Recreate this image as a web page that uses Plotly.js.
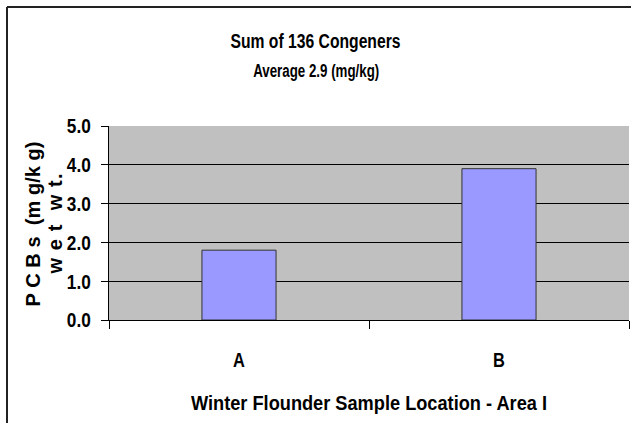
<!DOCTYPE html>
<html>
<head>
<meta charset="utf-8">
<script src="https://cdn.plot.ly/plotly-3.0.1.min.js"></script>
<style>
  html, body { margin: 0; padding: 0; background: #ffffff; }
  #chart { width: 631px; height: 423px; }
</style>
</head>
<body>
<div id="chart"></div>
<script>
// ---- Data ----
const categories = ["A", "B"];
const pcbValues = [1.8, 3.9];
const yTickValues = [0, 1, 2, 3, 4, 5];
const yTickLabels = ["0.0", "1.0", "2.0", "3.0", "4.0", "5.0"];

const chartTitle = "Sum of 136 Congeners";
const chartSubtitle = "Average 2.9 (mg/kg)";
const xTitle = "Winter Flounder Sample Location - Area I";
const yTitleLine1 = "P C B s  (m g/k g)";
const yTitleLine2 = "w e t  w t.";

const fontFam = "'Liberation Sans', Arial, sans-serif";

const trace = {
  type: "bar",
  x: categories,
  y: pcbValues,
  width: 0.285,
  marker: { color: "#9999FF", line: { color: "#333333", width: 1 } },
  hoverinfo: "skip"
};

const W = 631, H = 423;
const mL = 109, mR = 2, mT = 126, mB = 103;
const plotW = W - mL - mR, plotH = H - mT - mB;
const px = v => (v - mL) / plotW;
const py = v => (H - mB - v) / plotH;

const yTitleFont = { family: fontFam, size: 20, weight: "bold", color: "#000000" };

const layout = {
  width: W,
  height: H,
  margin: { l: mL, r: mR, t: mT, b: mB, pad: 0 },
  paper_bgcolor: "#ffffff",
  plot_bgcolor: "#C0C0C0",
  showlegend: false,
  title: {
    text: chartTitle,
    font: { family: fontFam, size: 20, weight: "bold", color: "#000000" },
    xref: "container", x: 0.5, xanchor: "center",
    yref: "container", y: 0.903, yanchor: "middle"
  },
  annotations: [
    { text: chartSubtitle, showarrow: false,
      xref: "paper", yref: "paper",
      x: px(W / 2), xanchor: "center",
      y: py(71), yanchor: "middle",
      font: { family: fontFam, size: 18, weight: "bold", color: "#000000" } },
    { text: yTitleLine1, showarrow: false, textangle: -90,
      xref: "paper", yref: "paper",
      x: px(33), xanchor: "center", y: py(224), yanchor: "middle",
      font: yTitleFont },
    { text: yTitleLine2, showarrow: false, textangle: -90,
      xref: "paper", yref: "paper",
      x: px(55), xanchor: "center", y: py(224), yanchor: "middle",
      font: yTitleFont }
  ],
  xaxis: {
    type: "category",
    tickson: "boundaries",
    ticks: "outside",
    ticklen: 8,
    tickcolor: "#000000",
    tickwidth: 1,
    showline: true,
    linecolor: "#000000",
    linewidth: 1,
    showgrid: false,
    zeroline: false,
    ticklabelstandoff: 22,
    tickfont: { family: fontFam, size: 20, weight: "bold", color: "#000000" },
    title: {
      text: xTitle,
      standoff: 25,
      font: { family: fontFam, size: 21, weight: "bold", color: "#000000" }
    },
    automargin: false,
    fixedrange: true
  },
  yaxis: {
    range: [0, 5],
    tickmode: "array",
    tickvals: yTickValues,
    ticktext: yTickLabels,
    ticks: "outside",
    ticklen: 7,
    tickcolor: "#000000",
    tickwidth: 1,
    showline: true,
    linecolor: "#000000",
    linewidth: 1,
    showgrid: true,
    gridcolor: "#000000",
    gridwidth: 1,
    zeroline: false,
    ticklabelstandoff: 6,
    tickfont: { family: fontFam, size: 21, weight: "bold", color: "#000000" },
    automargin: false,
    fixedrange: true
  },
  shapes: [
    { type: "line", xref: "paper", yref: "paper",
      x0: px(7), x1: px(W + 5), y0: py(7), y1: py(7),
      line: { color: "#222222", width: 2 } },
    { type: "line", xref: "paper", yref: "paper",
      x0: px(7), x1: px(7), y0: py(7), y1: py(H + 5),
      line: { color: "#222222", width: 2 } }
  ]
};

function fitText(t, target, mode) {
  if (!t) return;
  const len = t.getComputedTextLength();
  if (len > 0) {
    t.setAttribute("textLength", target.toFixed(2));
    t.setAttribute("lengthAdjust", mode);
  }
}

Plotly.newPlot("chart", [trace], layout, { displayModeBar: false, staticPlot: true })
  .then(gd => {
    const done = new Set();
    // The reference uses a condensed face: set measured lengths.
    const titleEl = gd.querySelector(".gtitle");
    fitText(titleEl, 170, "spacingAndGlyphs"); done.add(titleEl);
    const xt = gd.querySelector(".g-xtitle text");
    fitText(xt, 356, "spacingAndGlyphs"); done.add(xt);
    const anns = gd.querySelectorAll(".annotation-text");
    if (anns[0]) { fitText(anns[0], 126, "spacingAndGlyphs"); done.add(anns[0]); }
    if (anns[1]) { fitText(anns[1], 165, "spacing"); done.add(anns[1]); }
    if (anns[2]) { fitText(anns[2], 100, "spacing"); done.add(anns[2]); }
    gd.querySelectorAll("svg text").forEach(t => {
      if (done.has(t)) return;
      if (t.querySelector("tspan.line")) return;
      const len = t.getComputedTextLength();
      if (len > 0) fitText(t, len * 0.82, "spacingAndGlyphs");
    });
  });
</script>
</body>
</html>
